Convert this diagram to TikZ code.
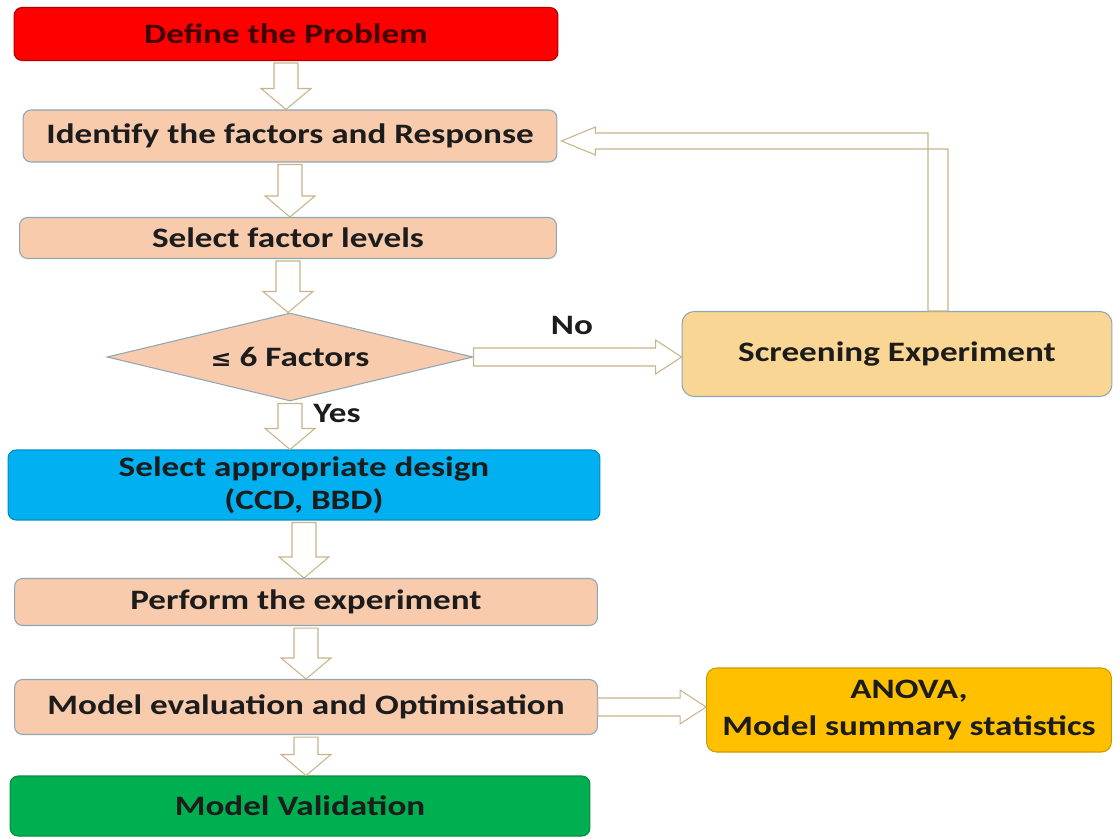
\documentclass[tikz,border=0pt]{standalone}
\usepackage{fontspec}
\setmainfont{Carlito}[FakeStretch=1.25]
\newfontfamily\symfont{DejaVu Sans}[FakeStretch=1.1]
\usepackage{tikz}
\usetikzlibrary{shapes.geometric, calc}

\definecolor{peach}{HTML}{F8CBAD}
\definecolor{edgegray}{HTML}{8FA6B4}
\definecolor{screenfill}{HTML}{FAD695}
\definecolor{cyanbox}{HTML}{00B0F0}
\definecolor{ambox}{HTML}{FFC000}
\definecolor{greenbox}{HTML}{00B050}
\definecolor{arrowedge}{HTML}{C9B48A}
\definecolor{inktext}{HTML}{1C1C1C}

% 1 unit = 1 pixel of the reference
\newcommand{\px}{0.569pt}

\tikzset{
  procbox/.style={draw=edgegray, rounded corners=8*\px, fill=peach, text=inktext,
    font=\fontsize{16}{19}\selectfont\bfseries, align=center, inner sep=2pt, line width=0.6pt},
  hollow/.style={draw=arrowedge, fill=white, line width=0.6pt, line join=miter}
}

% hollow block arrow pointing down, from the south of #1 to the north of #2
\newcommand{\vblock}[2]{%
  \draw[hollow] let \p1=(#1.south), \p2=(#2.north) in
    (\x1-12*\px,\y1-2*\px) -- (\x1+12*\px,\y1-2*\px) -- (\x1+12*\px,\y2+21*\px)
    -- (\x1+25*\px,\y2+21*\px) -- (\x1,\y2) -- (\x1-25*\px,\y2+21*\px)
    -- (\x1-12*\px,\y2+21*\px) -- cycle;}
% hollow block arrow pointing right, from the east of #1 to the west of #2
\newcommand{\hblock}[2]{%
  \draw[hollow] let \p1=(#1.east), \p2=(#2.west) in
    (\x1,\y1+9*\px) -- (\x2-26*\px,\y1+9*\px) -- (\x2-26*\px,\y1+17*\px)
    -- (\x2,\y1) -- (\x2-26*\px,\y1-17*\px) -- (\x2-26*\px,\y1-9*\px)
    -- (\x1,\y1-9*\px) -- cycle;}

\begin{document}
\begin{tikzpicture}[x=0.02cm, y=-0.02cm]
    \useasboundingbox (0,0) rectangle (1114,838);

    % Main column
    \node (define) [procbox, fill=red, draw=red!70!black, text=black!75!red, minimum width=544*\px, minimum height=53*\px] at (286,34) {Define the Problem};
    \node (ident) [procbox, minimum width=534*\px, minimum height=52*\px] at (290,136) {Identify the factors and Response};
    \node (levels) [procbox, minimum width=537*\px, minimum height=41*\px] at (288,238) {Select factor levels};
    \node (check) [diamond, draw=edgegray, fill=peach, text=inktext, font=\fontsize{16}{19}\selectfont\bfseries, aspect=4.16, inner sep=0pt, minimum width=366*\px, minimum height=88*\px, line width=0.6pt] at (290,357) {{\symfont\fontsize{13}{16}\selectfont ≤} 6 Factors};
    \node (design) [procbox, fill=cyanbox, draw=cyanbox!80!black, minimum width=592*\px, minimum height=70*\px] at (304,485) {Select appropriate design\\(CCD, BBD)};
    \node (perform) [procbox, minimum width=583*\px, minimum height=47*\px] at (306,602) {Perform the experiment};
    \node (evalm) [procbox, minimum width=583*\px, minimum height=55*\px] at (306,707) {Model evaluation and Optimisation};
    \node (valid) [procbox, fill=greenbox, draw=greenbox!80!black, minimum width=580*\px, minimum height=60*\px] at (300,806) {Model Validation};

    % Side boxes
    \node (screen) [procbox, fill=screenfill, rounded corners=12*\px, minimum width=430*\px, minimum height=85*\px] at (897,354) {Screening Experiment};
    \node (anova) [procbox, fill=ambox, draw=ambox!80!black, rounded corners=10*\px, minimum width=405*\px, minimum height=84*\px, font=\fontsize{16}{21}\selectfont\bfseries] at (909,710) {ANOVA,\\Model summary statistics};

    % Block arrows
    \vblock{define}{ident}
    \vblock{ident}{levels}
    \vblock{levels}{check}
    \vblock{check}{design}
    \vblock{design}{perform}
    \vblock{perform}{evalm}
    \vblock{evalm}{valid}
    \hblock{check}{screen}
    \hblock{evalm}{anova}

    % Loop back to the factors
    \draw[hollow] let \p1=($(screen.north)+(41,0)$), \p2=(ident.east) in
        (\x1-10*\px,\y1) -- (\x1-10*\px,\y2+3*\px) -- (\x2+38*\px,\y2+3*\px)
        -- (\x2+38*\px,\y2+9*\px) -- (\x2+4*\px,\y2-5*\px) -- (\x2+38*\px,\y2-19*\px)
        -- (\x2+38*\px,\y2-13*\px) -- (\x1+10*\px,\y2-13*\px) -- (\x1+10*\px,\y1) -- cycle;

    % Branch labels
    \node (nolab) [font=\fontsize{16}{19}\selectfont\bfseries, text=inktext] at (572,325) {No};
    \node (yeslab) [font=\fontsize{16}{19}\selectfont\bfseries, text=inktext] at (337,413) {Yes};
\end{tikzpicture}
\end{document}
